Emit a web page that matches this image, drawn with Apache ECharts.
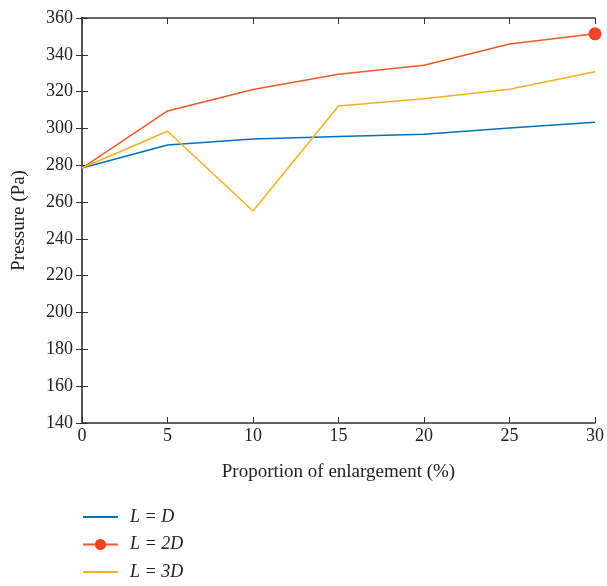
<!DOCTYPE html>
<html><head><meta charset="utf-8">
<script src="https://cdn.jsdelivr.net/npm/echarts@6/dist/echarts.min.js"></script>
<style>html,body{margin:0;padding:0;background:#fff}#c{width:607px;height:586px}</style>
</head><body><div id="c"></div>
<script>
var categories = [0, 5, 10, 15, 20, 25, 30];
var seriesNames = ['L = D', 'L = 2D', 'L = 3D'];
var valsD  = [278.5, 291, 294.3, 295.6, 296.8, 300.2, 303.4];
var vals2D = [278.5, 309.5, 321.2, 329.5, 334.3, 345.9, 351.4];
var vals3D = [278.5, 298.5, 255.2, 312.2, 316.2, 321.3, 330.8];
var yTicks = [140, 360, 20];
var xTicks = [0, 30, 5];

var font = '"Liberation Serif", "DejaVu Serif", serif';
function pairs(v){ return categories.map(function(x,i){ return [x, v[i]]; }); }
var d2 = pairs(vals2D).map(function(p,i){
  return i === categories.length-1 ? {value:p, symbol:'circle', symbolSize:13} : {value:p, symbol:'none'};
});
var axisLineStyle = {color:'#333', width:1.5};
var legendTops = [508, 535.5, 563];
function mkLegend(i, hideSym){
  var item = {name:seriesNames[i]};
  if (hideSym) item.itemStyle = {opacity:0};
  return {
    orient:'vertical', left:82, top:legendTops[i], itemWidth:35, itemHeight:14, padding:0,
    textStyle:{fontFamily:font, fontStyle:'italic', fontSize:18, color:'#222', padding:[0,0,0,7]},
    data:[item]
  };
}
var chart = echarts.init(document.getElementById('c'));
chart.setOption({
  animation:false,
  grid:{left:82, right:11, top:18, bottom:163},
  legend:[mkLegend(0,true), mkLegend(1,false), mkLegend(2,true)],
  xAxis:[{
    type:'value', min:xTicks[0], max:xTicks[1], interval:xTicks[2],
    name:'Proportion of enlargement (%)', nameLocation:'middle', nameGap:40,
    nameTextStyle:{fontFamily:font, fontSize:19, color:'#222'},
    axisLine:{lineStyle:axisLineStyle}, axisTick:{inside:true, length:6, lineStyle:{color:'#333'}},
    axisLabel:{fontFamily:font, fontSize:18, color:'#222', margin:4},
    splitLine:{show:false}
  },{
    type:'value', position:'top', min:xTicks[0], max:xTicks[1], interval:xTicks[2],
    axisLine:{lineStyle:axisLineStyle}, axisTick:{inside:true, length:6, lineStyle:{color:'#333'}},
    axisLabel:{show:false}, splitLine:{show:false}
  }],
  yAxis:[{
    type:'value', min:yTicks[0], max:yTicks[1], interval:yTicks[2],
    name:'Pressure (Pa)', nameLocation:'middle', nameGap:53, nameRotate:90,
    nameTextStyle:{fontFamily:font, fontSize:19, color:'#222'},
    axisLine:{lineStyle:{color:'#555', width:2}}, axisTick:{inside:true, length:6, lineStyle:{color:'#333'}},
    axisLabel:{fontFamily:font, fontSize:18, color:'#222', margin:9},
    splitLine:{show:false}
  },{
    type:'value', position:'right', min:yTicks[0], max:yTicks[1], interval:yTicks[2],
    axisLine:{lineStyle:{color:'#555', width:2}}, axisTick:{inside:true, length:6, lineStyle:{color:'#333'}},
    axisLabel:{show:false}, splitLine:{show:false}
  }],
  series:[
    {name:seriesNames[0], type:'line', data:pairs(valsD), symbol:'none', lineStyle:{color:'#0072BD', width:1.5}, itemStyle:{color:'#0072BD'}},
    {name:seriesNames[1], type:'line', data:d2, symbol:'circle', symbolSize:13, showSymbol:true, lineStyle:{color:'#F05A28', width:1.5}, itemStyle:{color:'#EE4527'}, z:3},
    {name:seriesNames[2], type:'line', data:pairs(vals3D), symbol:'none', lineStyle:{color:'#F5B020', width:1.5}, itemStyle:{color:'#F5B020'}}
  ]
});
</script></body></html>
